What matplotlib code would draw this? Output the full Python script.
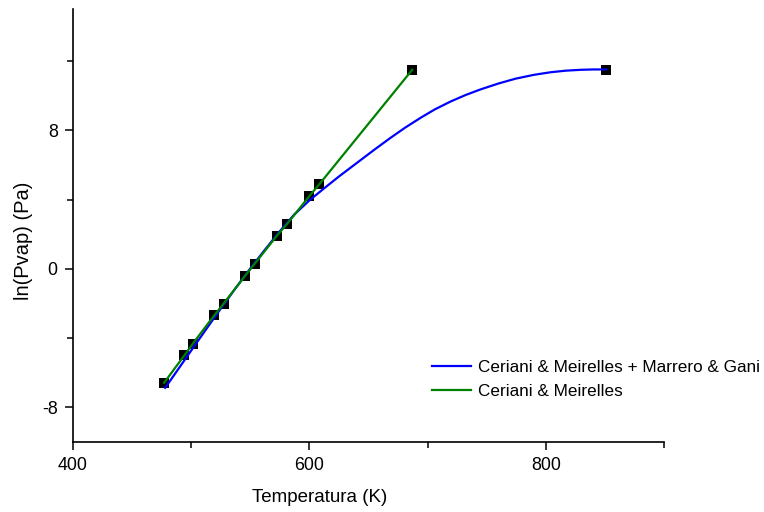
import matplotlib
matplotlib.use("Agg")
import matplotlib.pyplot as plt
from matplotlib.ticker import FixedLocator

plt.rcParams['font.family'] = ['Liberation Sans', 'DejaVu Sans']
plt.rcParams['axes.unicode_minus'] = False

# experimental points
T_pts = [477.1, 494.3, 501.4, 519.5, 527.4, 545.8, 553.7, 572.6, 581.1, 600.0, 608.5, 687.0, 850.8]
lnP_pts = [-6.58, -4.99, -4.32, -2.69, -2.01, -0.39, 0.29, 1.92, 2.59, 4.20, 4.89, 11.49, 11.49]

# Ceriani & Meirelles (green) - polyline through points up to 687 K
T_cm = [477.1, 494.3, 501.4, 519.5, 527.4, 545.8, 553.7, 572.6, 581.1, 600.0, 608.5, 687.0]
lnP_cm = [-6.58, -4.99, -4.32, -2.69, -2.01, -0.39, 0.29, 1.92, 2.59, 4.20, 4.89, 11.49]

# Ceriani & Meirelles + Marrero & Gani (blue) curve
T_cmg = [478.0, 490.0, 500.0, 512.0, 525.0, 537.0, 550.0, 562.0, 575.0, 587.0, 600.0, 612.0,
         625.0, 643.2, 656.0, 668.6, 681.0, 694.1, 706.0, 719.5, 732.0, 744.9, 760.0, 774.6,
         790.0, 804.2, 817.0, 829.7, 840.0, 850.8]
lnP_cmg = [-6.87, -5.70, -4.72, -3.55, -2.30, -1.17, 0.02, 1.07, 2.17, 3.12, 3.95, 4.62,
           5.33, 6.27, 6.93, 7.56, 8.15, 8.72, 9.20, 9.66, 10.03, 10.36, 10.70, 10.98,
           11.20, 11.35, 11.44, 11.49, 11.51, 11.51]

fig = plt.figure(figsize=(7.64, 5.12), dpi=100)
ax = fig.add_axes([73/764, 1-442/512, (664-73)/764, (442-9)/512])

ax.scatter(T_pts, lnP_pts, marker='s', s=6.7**2, color='black', zorder=2, linewidths=0)
ax.plot(T_cmg, lnP_cmg, color='#0000FF', lw=1.6, zorder=3,
        label='Ceriani & Meirelles + Marrero & Gani')
ax.plot(T_cm, lnP_cm, color='#008000', lw=1.6, zorder=3, label='Ceriani & Meirelles')

ax.set_xlim(400, 900)
ax.set_ylim(-10, 15)
ax.xaxis.set_major_locator(FixedLocator([400, 600, 800]))
ax.xaxis.set_minor_locator(FixedLocator([500, 700, 900]))
ax.yaxis.set_major_locator(FixedLocator([-8, 0, 8]))
ax.yaxis.set_minor_locator(FixedLocator([-4, 4, 12]))

for s in ['top', 'right']:
    ax.spines[s].set_visible(False)
for s in ['left', 'bottom']:
    ax.spines[s].set_linewidth(1.2)

ax.tick_params(which='major', direction='out', length=6, width=1.1, labelsize=12.8, pad=5)
ax.tick_params(which='minor', direction='out', length=4, width=1.1)

ax.set_xlabel('Temperatura (K)', fontsize=13.5, va='center', ha='center')
ax.set_ylabel('ln(Pvap) (Pa)', fontsize=14.5, va='center', ha='center')
ax.xaxis.set_label_coords(0.418, -0.128)
ax.yaxis.set_label_coords(-0.084, 0.464)

leg = fig.legend(loc='upper left', bbox_to_anchor=(432/764, 1-360/512), frameon=False,
                 fontsize=12.3, handlelength=2.3, handletextpad=0.4, labelspacing=0.55,
                 borderaxespad=0, borderpad=0)

fig.savefig('out.png', dpi=100)
